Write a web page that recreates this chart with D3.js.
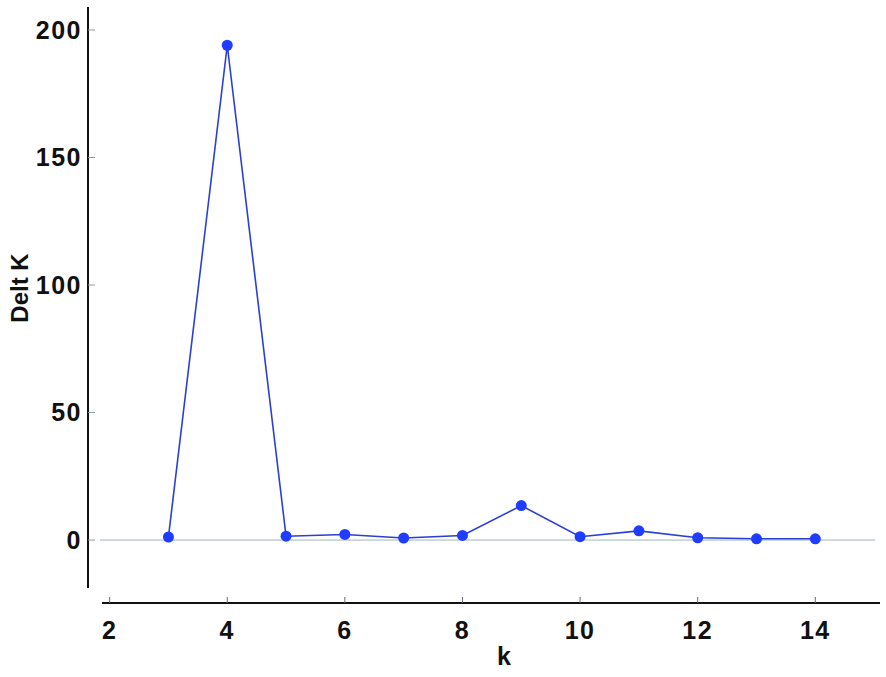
<!DOCTYPE html>
<html>
<head>
<meta charset="utf-8">
<script src="https://cdn.jsdelivr.net/npm/d3@7"></script>
<style>
  body { margin: 0; background: #fff; }
  svg text { font-family: "Liberation Sans", Arial, sans-serif; font-weight: bold; }
</style>
</head>
<body>
<svg id="chart" width="886" height="677"></svg>
<script>
const kValues = [3, 4, 5, 6, 7, 8, 9, 10, 11, 12, 13, 14];
const deltaK = [1.2, 194, 1.5, 2.2, 0.8, 1.8, 13.5, 1.3, 3.6, 0.9, 0.5, 0.5];
const xTicks = [2, 4, 6, 8, 10, 12, 14];
const yTicks = [0, 50, 100, 150, 200];

const svg = d3.select('#chart');

const x = d3.scaleLinear().domain([1.87, 15.1]).range([102, 880]);
const y = d3.scaleLinear().domain([-18.8, 209]).range([588, 7]);

// y axis
const yAxis = svg.append('g').attr('transform', 'translate(88,0)');
yAxis.append('line')
  .attr('y1', y.range()[0]).attr('y2', y.range()[1])
  .attr('stroke', '#111').attr('stroke-width', 2);
yAxis.selectAll('.ytick')
  .data(yTicks)
  .enter()
  .append('line')
  .attr('class', 'ytick')
  .attr('x1', 0).attr('x2', 7)
  .attr('y1', d => y(d)).attr('y2', d => y(d))
  .attr('stroke', '#8a9aa0').attr('stroke-width', 1);
yAxis.selectAll('.ylab')
  .data(yTicks)
  .enter()
  .append('text')
  .attr('class', 'ylab')
  .attr('x', -6)
  .attr('y', d => y(d))
  .attr('dy', '0.35em')
  .attr('text-anchor', 'end')
  .attr('font-size', '25px')
  .attr('letter-spacing', '1.5px')
  .attr('fill', '#111')
  .text(d => d);

// x axis
const xAxis = svg.append('g').attr('transform', 'translate(0,603)');
xAxis.append('line')
  .attr('x1', x.range()[0]).attr('x2', x.range()[1])
  .attr('stroke', '#111').attr('stroke-width', 2);
xAxis.selectAll('.xtick')
  .data(xTicks)
  .enter()
  .append('line')
  .attr('class', 'xtick')
  .attr('x1', d => x(d)).attr('x2', d => x(d))
  .attr('y1', 0).attr('y2', -6)
  .attr('stroke', '#667').attr('stroke-width', 1);
xAxis.selectAll('.xlab')
  .data(xTicks)
  .enter()
  .append('text')
  .attr('class', 'xlab')
  .attr('x', d => x(d))
  .attr('y', 36)
  .attr('text-anchor', 'middle')
  .attr('font-size', '25px')
  .attr('letter-spacing', '1.5px')
  .attr('fill', '#111')
  .text(d => d);

// zero line
svg.append('line')
  .attr('x1', 100).attr('x2', 875)
  .attr('y1', y(0)).attr('y2', y(0))
  .attr('stroke', '#9fb4bb').attr('stroke-width', 1);

// axis titles
svg.append('text')
  .attr('x', 504).attr('y', 665)
  .attr('text-anchor', 'middle')
  .attr('font-size', '25px')
  .attr('fill', '#111')
  .text('k');
svg.append('text')
  .attr('transform', 'translate(28,288) rotate(-90)')
  .attr('text-anchor', 'middle')
  .attr('font-size', '24px')
  .attr('fill', '#111')
  .text('Delt K');

// series
const pts = kValues.map((k, i) => [k, deltaK[i]]);
svg.append('path')
  .datum(pts)
  .attr('fill', 'none')
  .attr('stroke', '#2a3fd6')
  .attr('stroke-width', 1.6)
  .attr('d', d3.line().x(d => x(d[0])).y(d => y(d[1])));
svg.selectAll('.pt')
  .data(pts)
  .enter()
  .append('circle')
  .attr('class', 'pt')
  .attr('cx', d => x(d[0]))
  .attr('cy', d => y(d[1]))
  .attr('r', 5.5)
  .attr('fill', '#1f3cff');
</script>
</body>
</html>
